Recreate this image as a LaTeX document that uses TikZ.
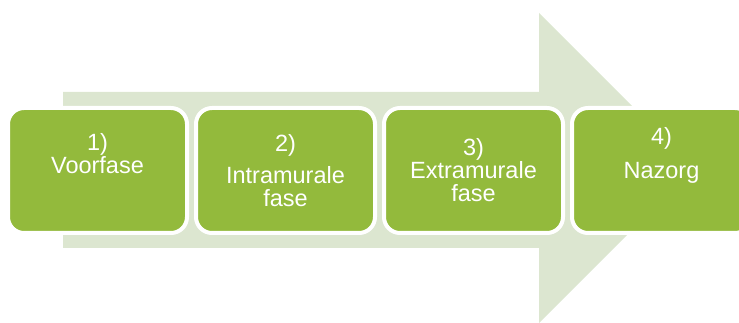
\documentclass[tikz,border=0pt]{standalone}
\usepackage{fontspec}
\setmainfont{Liberation Sans}
\definecolor{arrowbg}{HTML}{DCE6D0}
\definecolor{boxgreen}{HTML}{93BA3C}
\begin{document}
\begin{tikzpicture}[x=1pt,y=-1pt,
  phasebox/.style={draw=white, line width=4pt, fill=boxgreen, rounded corners=16pt,
    minimum width=179pt, minimum height=125pt, inner sep=0pt},
  phasetext/.style={text=white, align=center, inner sep=0pt,
    font=\fontsize{23.5}{23}\selectfont}]
\useasboundingbox (0,0) rectangle (739,323);
\begin{scope}
\clip (0,0) rectangle (739,323);
\fill[arrowbg] (63,92) -- (539,92) -- (539,13) -- (694,168) -- (539,323) -- (539,248) -- (63,248) -- cycle;
\node[phasebox] (b1) at (97.5,170.5) {};
\node[phasebox] (b2) at (285.5,170.5) {};
\node[phasebox] (b3) at (473.5,170.5) {};
\node[phasebox] (b4) at (661.5,170.5) {};
\end{scope}
\node[phasetext] (t1) at (97.5,153.5) {1)\\Voorfase};
\node[phasetext] (t2) at (285.5,170.5) {2)\\[9pt]Intramurale\\fase};
\node[phasetext] (t3) at (473.5,170) {3)\\Extramurale\\fase};
\node[phasetext] (t4) at (661.5,155) {4)\\[11pt]Nazorg};
\end{tikzpicture}
\end{document}
